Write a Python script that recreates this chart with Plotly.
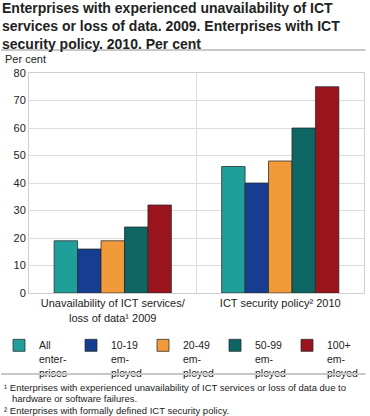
import plotly.graph_objects as go

categories = ["Unavailability of ICT services/<br>loss of data¹ 2009", "ICT security policy² 2010"]
series_names = ["All<br>enter-<br>prises", "10-19<br>em-<br>ployed", "20-49<br>em-<br>ployed", "50-99<br>em-<br>ployed", "100+<br>em-<br>ployed"]
all_enterprises = [19, 46]
employed_10_19 = [16, 40]
employed_20_49 = [19, 48]
employed_50_99 = [24, 60]
employed_100_plus = [32, 75]
series_values = [all_enterprises, employed_10_19, employed_20_49, employed_50_99, employed_100_plus]
colors = ["#1f9e9a", "#163d8f", "#f19a3a", "#0d6663", "#9a141d"]
y_ticks = [0, 10, 20, 30, 40, 50, 60, 70, 80]

title = ("Enterprises with experienced unavailability of ICT<br>"
         "services or loss of data. 2009. Enterprises with ICT<br>"
         "security policy. 2010. Per cent")
footnotes = [
    "¹ Enterprises with experienced unavailability of ICT services or loss of data due to",
    "   hardware or software failures.",
    "² Enterprises with formally defined ICT security policy.",
]

W, H = 370, 416
L, R, T, B = 29, 6, 73, 123
pw, ph = W - L - R, H - T - B

def px_x(px):
    return (px - L) / pw

def px_y(py):
    return (H - B - py) / ph

fig = go.Figure()
for name, vals, col in zip(series_names, series_values, colors):
    fig.add_trace(go.Bar(
        x=categories, y=vals, name=name,
        marker=dict(color=col, line=dict(color="rgba(40,40,40,0.75)", width=1)),
    ))

font_family = "Liberation Sans, Arial, sans-serif"

fig.update_layout(
    width=W, height=H,
    margin=dict(l=L, r=R, t=T, b=B, autoexpand=False),
    paper_bgcolor="white", plot_bgcolor="white",
    font=dict(family=font_family, size=11, color="#222"),
    barmode="group", bargap=0.3, bargroupgap=0,
    showlegend=True,
    legend=dict(orientation="h", x=px_x(-1), xanchor="left", y=px_y(332), yanchor="top",
                entrywidth=27, entrywidthmode="pixels", valign="top",
                font=dict(size=10.5, color="#222"), traceorder="normal",
                bgcolor="rgba(0,0,0,0)", tracegroupgap=0),
    xaxis=dict(type="category", tickson="boundaries", showgrid=True, gridcolor="#dcdcdc",
               showline=True, linecolor="#cfcfcf", mirror=True, ticks="",
               tickfont=dict(size=11, color="#222")),
    yaxis=dict(range=[0, 80], tickvals=y_ticks, showgrid=True, gridcolor="#dcdcdc",
               zeroline=False, showline=True, linecolor="#cfcfcf", mirror=True, ticks="",
               tickfont=dict(size=11, color="#222")),
)

# separator lines drawn as headless annotation arrows
for y in [50, 374]:
    fig.add_annotation(text=" ", xref="paper", yref="paper", x=px_x(0), y=px_y(y),
                       showarrow=True, arrowhead=0, arrowwidth=2, arrowcolor="#c8c8c8",
                       ax=367, ay=0, standoff=0, startstandoff=0,
                       font=dict(size=1))

fig.add_annotation(text="<b>" + title + "</b>", xref="paper", yref="paper",
                   x=px_x(0), y=px_y(-2), xanchor="left", yanchor="top", align="left",
                   showarrow=False, font=dict(size=14, color="#222"))

fig.add_annotation(text="Per cent", xref="paper", yref="paper", x=px_x(3), y=px_y(59),
                   xanchor="left", yanchor="middle", showarrow=False,
                   font=dict(size=11, color="#222"))

for txt, yy in zip(footnotes, [387, 398, 410]):
    fig.add_annotation(text=txt, xref="paper", yref="paper", x=px_x(2), y=px_y(yy),
                       xanchor="left", yanchor="middle", showarrow=False,
                       font=dict(size=9.5, color="#222"))

fig.write_html("out.html", config={"displayModeBar": False},
               post_script="document.body.style.margin='0';document.body.style.padding='0';")
